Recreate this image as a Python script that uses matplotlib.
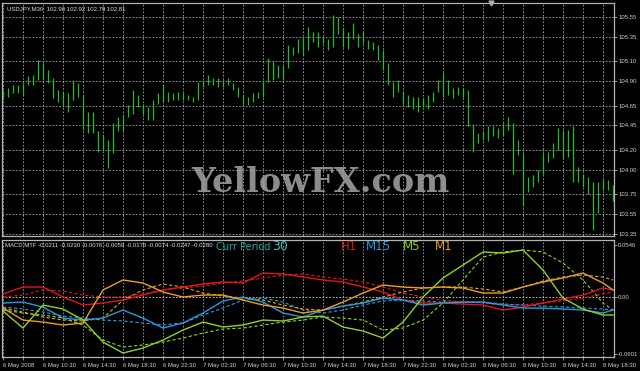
import matplotlib.pyplot as plt
import numpy as np

# USDJPY M30 bars, 6 May 2008 06:30 -> 8 May 2008 19:30 (123 bars)
highs = [104.81, 104.83, 104.86, 104.86, 104.88, 104.95, 104.96, 105.11, 105.08, 105.01,
         104.93, 104.81, 104.79, 104.78, 104.91, 104.88, 104.76, 104.59, 104.59, 104.39,
         104.35, 104.30, 104.47, 104.54, 104.56, 104.66, 104.81, 104.76, 104.67, 104.64,
         104.71, 104.78, 104.86, 104.79, 104.78, 104.79, 104.78, 104.76, 104.74, 104.89,
         104.91, 104.96, 104.93, 104.93, 104.91, 104.93, 104.88, 104.84, 104.76, 104.74,
         104.78, 104.79, 104.91, 105.13, 105.10, 105.06, 105.05, 105.27, 105.25, 105.33,
         105.35, 105.45, 105.40, 105.40, 105.35, 105.33, 105.57, 105.55, 105.44, 105.40,
         105.49, 105.38, 105.40, 105.32, 105.30, 105.27, 105.22, 105.08, 104.89, 104.91,
         104.79, 104.76, 104.74, 104.74, 104.73, 104.76, 104.79, 104.91, 104.98, 104.91,
         104.83, 104.84, 104.83, 104.81, 104.46, 104.37, 104.39, 104.44, 104.44, 104.42,
         104.47, 104.54, 104.47, 104.30, 104.17, 103.93, 103.95, 104.00, 104.17, 104.18,
         104.27, 104.42, 104.40, 104.40, 104.44, 104.03, 103.96, 103.93, 103.88, 103.88,
         103.91, 103.90, 103.85]
lows = [104.73, 104.74, 104.78, 104.78, 104.76, 104.86, 104.86, 104.91, 104.91, 104.88,
        104.73, 104.69, 104.64, 104.59, 104.71, 104.74, 104.40, 104.37, 104.37, 104.18,
        104.20, 104.02, 104.17, 104.39, 104.39, 104.54, 104.57, 104.64, 104.57, 104.51,
        104.51, 104.67, 104.69, 104.69, 104.71, 104.71, 104.71, 104.71, 104.69, 104.71,
        104.84, 104.86, 104.86, 104.84, 104.84, 104.86, 104.81, 104.74, 104.67, 104.66,
        104.69, 104.73, 104.74, 104.89, 104.91, 104.93, 104.91, 105.03, 105.16, 105.18,
        105.16, 105.22, 105.30, 105.25, 105.28, 105.22, 105.25, 105.38, 105.25, 105.23,
        105.33, 105.25, 105.28, 105.23, 105.22, 105.11, 105.01, 104.86, 104.74, 104.79,
        104.67, 104.64, 104.62, 104.59, 104.64, 104.62, 104.69, 104.79, 104.74, 104.76,
        104.73, 104.76, 104.73, 104.44, 104.18, 104.27, 104.30, 104.29, 104.34, 104.32,
        104.34, 104.40, 103.96, 104.15, 103.64, 103.78, 103.83, 103.88, 103.96, 104.08,
        104.12, 104.20, 104.12, 104.13, 103.88, 103.88, 103.83, 103.76, 103.39, 103.56,
        103.80, 103.80, 103.68]

price_ticks = [105.55, 105.35, 105.10, 104.90, 104.65, 104.45, 104.20, 104.00, 103.75, 103.55, 103.35]

# MACD MTF readings, sampled every 4 bars (plus last bar)
macd_bars = list(range(0, 121, 4)) + [122]
h1 = [0.0032, 0.0105, 0.0105, 0.0, -0.0084, -0.0063, -0.0032, 0.0021, 0.0074, 0.0105,
      0.0137, 0.0158, 0.0147, 0.0252, 0.0242, 0.0210, 0.0179, 0.0158, 0.0105, 0.0053,
      -0.0032, -0.0063, -0.0063, -0.0074, -0.0084, -0.0137, -0.0105, -0.0063, -0.0021, 0.0021,
      0.0095, 0.0074]
h1_sig = [0.0, 0.0021, 0.0074, 0.0063, 0.0021, 0.0, 0.0, 0.0032, 0.0074, 0.0095,
          0.0116, 0.0147, 0.0168, 0.0200, 0.0231, 0.0242, 0.0210, 0.0189, 0.0158, 0.0105,
          0.0042, 0.0, -0.0032, -0.0053, -0.0063, -0.0084, -0.0084, -0.0063, -0.0042, -0.0011,
          0.0032, 0.0053]
m15 = [-0.0063, -0.0053, -0.0105, -0.0221, -0.0242, -0.0221, -0.0137, -0.0221, -0.0326, -0.0273,
       -0.0168, -0.0042, 0.0, -0.0053, -0.0168, -0.0210, -0.0137, -0.0095, -0.0063, -0.0011,
       -0.0032, -0.0084, -0.0063, -0.0053, -0.0053, -0.0084, -0.0116, -0.0116, -0.0126, -0.0137,
       -0.0168, -0.0137]
m15_sig = [-0.0105, -0.0126, -0.0158, -0.0200, -0.0221, -0.0242, -0.0252, -0.0273, -0.0294, -0.0273,
           -0.0189, -0.0116, -0.0032, -0.0011, -0.0053, -0.0137, -0.0168, -0.0137, -0.0084, -0.0042,
           -0.0032, -0.0042, -0.0053, -0.0053, -0.0053, -0.0074, -0.0084, -0.0095, -0.0105, -0.0116,
           -0.0126, -0.0137]
m5 = [-0.0147, -0.0326, -0.0084, -0.0126, -0.0242, -0.0473, -0.0588, -0.0536, -0.0452, -0.0347,
      -0.0263, -0.0315, -0.0294, -0.0242, -0.0252, -0.0210, -0.0200, -0.0315, -0.0357, -0.0431,
      -0.0263, 0.0, 0.0200, 0.0336, 0.0473, 0.0462, 0.0494, 0.0284, -0.0011, -0.0126,
      -0.0189, -0.0189]
m5_sig = [-0.0137, -0.0168, -0.0189, -0.0221, -0.0294, -0.0452, -0.0525, -0.0504, -0.0473, -0.0431,
          -0.0378, -0.0336, -0.0326, -0.0294, -0.0263, -0.0242, -0.0210, -0.0221, -0.0242, -0.0347,
          -0.0326, -0.0242, -0.0063, 0.0179, 0.0420, 0.0473, 0.0494, 0.0473, 0.0357, 0.0179,
          -0.0063, -0.0137]
m1 = [-0.0116, -0.0242, -0.0263, -0.0294, -0.0273, 0.0074, 0.0179, 0.0147, 0.0053, 0.0,
      0.0021, 0.0021, -0.0032, -0.0084, -0.0116, -0.0168, -0.0137, -0.0053, 0.0042, 0.0126,
      0.0105, 0.0095, 0.0105, 0.0095, 0.0042, 0.0042, 0.0105, 0.0158, 0.0200, 0.0252,
      0.0147, 0.0074]
m1_sig = [-0.0116, -0.0158, -0.0210, -0.0242, -0.0252, -0.0221, -0.0032, 0.0074, 0.0137, 0.0105,
          0.0042, 0.0011, -0.0011, -0.0032, -0.0084, -0.0126, -0.0137, -0.0095, -0.0053, 0.0,
          0.0053, 0.0095, 0.0105, 0.0105, 0.0084, 0.0053, 0.0105, 0.0168, 0.0210, 0.0231,
          0.0210, 0.0179]

time_labels = ["6 May 2008", "6 May 10:30", "6 May 14:30", "6 May 18:30", "6 May 22:30",
               "7 May 02:30", "7 May 06:30", "7 May 10:30", "7 May 14:30", "7 May 18:30",
               "7 May 22:30", "8 May 02:30", "8 May 06:30", "8 May 10:30", "8 May 14:30",
               "8 May 18:30"]

header = "USDJPY,M30  102.90 102.92 102.79 102.81"
macd_header = "MACD MTF -0.0211 -0.0230 -0.0076 -0.0059 -0.0176 -0.0074 -0.0247 -0.0280"

small_font = 'Liberation Sans'
small_size = 4.3

W, H = 640, 371
def box(l, t, r, b):
    return [l / W, 1 - b / H, (r - l) / W, (b - t) / H]

fig = plt.figure(figsize=(6.4, 3.71), dpi=100, facecolor='black')
ax1 = fig.add_axes(box(2, 3, 614, 236))
ax2 = fig.add_axes(box(2, 240, 614, 357), sharex=ax1)

grid_style = dict(color='#a8a8a8', linestyle=(0, (2, 2)), linewidth=0.6)
for ax in (ax1, ax2):
    ax.set_facecolor('black')
    for sp in ax.spines.values():
        sp.set_color('#b4b4b4')
        sp.set_linewidth(0.9)
    ax.yaxis.tick_right()
    ax.tick_params(axis='y', length=2, width=0.6, color='#b0b0b0', labelcolor='#d0d0d0',
                   labelsize=small_size, pad=1)
    ax.set_xticks(range(0, 123, 4))
    ax.xaxis.grid(True, **grid_style)

# price bars
idx = np.arange(len(highs))
ax1.vlines(idx, lows, highs, color='#2cb82c', linewidth=0.9, zorder=3)
ax1.set_xlim(-0.2, 122.2)
ax1.set_ylim(103.329, 105.692)
ax1.set_yticks(price_ticks)
ax1.set_yticklabels(['%.2f' % p for p in price_ticks], family=small_font)
ax1.yaxis.grid(True, **grid_style)
ax1.tick_params(axis='x', bottom=False, labelbottom=False)
ax1.text(0.008, 0.985, header, transform=ax1.transAxes, color='#e0e0e0', fontsize=small_size,
         family=small_font, va='top', ha='left')
ax1.text(0.5, 0.507, 'YellowFX.com', transform=fig.transFigure, color='#8c8c8c',
         fontsize=24, fontweight='bold', family='DejaVu Serif', ha='center', va='center',
         zorder=1)
ax1.plot([97.6], [1.0], marker='v', color='#b0b0b0', markersize=3.5,
         transform=ax1.get_xaxis_transform(), clip_on=False, zorder=5)

# MACD MTF panel
ax2.set_ylim(-0.063, 0.0599)
ax2.axhline(0, color='#d8d8d8', linestyle=(0, (2, 2)), linewidth=0.6, zorder=1)
series = [(h1, h1_sig, '#e01818'), (m15, m15_sig, '#2a9ae0'),
          (m5, m5_sig, '#8ed41e'), (m1, m1_sig, '#eaa022')]
for main, sig, col in series:
    ax2.plot(macd_bars, sig, color=col, linewidth=0.8, linestyle=(0, (3, 2)), zorder=2)
    ax2.plot(macd_bars, main, color=col, linewidth=1.0, zorder=3)
ax2.set_yticks([0.0546, 0.0, -0.0601])
ax2.set_yticklabels(['0.0546', '0.00', '-0.0601'], family=small_font)
xlabels = []
for k in range(0, 123, 4):
    xlabels.append(time_labels[k // 8] if k % 8 == 0 else '')
ax2.set_xticklabels(xlabels, ha='left', family=small_font)
ax2.tick_params(axis='x', length=2, width=0.6, color='#b0b0b0', labelcolor='#d0d0d0',
                labelsize=small_size, pad=2)
ax2.set_xlim(-0.2, 122.2)

ax2.text(0.005, 0.955, macd_header, transform=ax2.transAxes, color='#e0e0e0',
         fontsize=small_size, family=small_font, va='center', ha='left')
ax2.text(216 / W, 1 - 247 / H, 'Curr Period', transform=fig.transFigure, color='#1fa8a8',
         fontsize=7, va='center', ha='left')
ax2.text(272 / W, 1 - 247 / H, '30', transform=fig.transFigure, color='#38c8c8',
         fontsize=9, va='center', ha='left')
for txt, col, xp in [('H1', '#e01818', 341), ('M15', '#2a9ae0', 366),
                     ('M5', '#8ed41e', 403), ('M1', '#eaa022', 435)]:
    ax2.text(xp / W, 1 - 247 / H, txt, transform=fig.transFigure, color=col,
             fontsize=8.5, va='center', ha='left')

fig.savefig('out.png', dpi=100, facecolor='black')
